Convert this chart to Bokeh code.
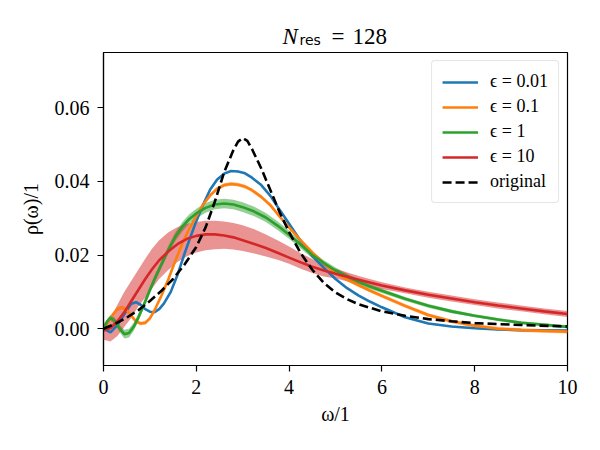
import numpy as np
from bokeh.plotting import figure
from bokeh.layouts import column
from bokeh.models import Range1d, Legend, LegendItem, FixedTicker, PrintfTickFormatter
from bokeh.core.properties import value
from bokeh.embed import file_html
from bokeh.resources import INLINE

# ---------------- data ----------------
x_ticks = [0, 2, 4, 6, 8, 10]
y_ticks = [0.0, 0.02, 0.04, 0.06]

orig_x = [0, 0.25, 0.5, 0.75, 1.0, 1.25, 1.5, 1.75, 2.0, 2.2, 2.4, 2.6, 2.8, 2.9, 3.0, 3.1, 3.2,
          3.4, 3.6, 3.8, 4.0, 4.25, 4.5, 4.75, 5.0, 5.25, 5.5, 6.0, 6.5, 7.0, 7.5, 8.0, 9.0, 10.0]
orig_y = [0, 0.0013, 0.003, 0.005, 0.0075, 0.0103, 0.0135, 0.0175, 0.0222, 0.0275, 0.0345, 0.0425,
          0.0485, 0.0508, 0.0518, 0.0510, 0.0488, 0.0435, 0.0375, 0.0315, 0.0262, 0.0205, 0.0160,
          0.0124, 0.0098, 0.0080, 0.0066, 0.0047, 0.0035, 0.0026, 0.0020, 0.0015, 0.0010, 0.0006]

blue_x = [0, 0.15, 0.3, 0.45, 0.6, 0.7, 0.8, 0.9, 1.0, 1.1, 1.2, 1.3, 1.45, 1.6, 1.75, 1.9, 2.0,
          2.15, 2.3, 2.45, 2.6, 2.75, 2.9, 3.05, 3.2, 3.4, 3.6, 3.8, 4.0, 4.25, 4.5, 4.75, 5.0,
          5.25, 5.5, 5.75, 6.0, 6.5, 7.0, 7.5, 8.0, 8.5, 9.0, 10.0]
blue_y = [0, -0.001, 0.001, 0.004, 0.0068, 0.0072, 0.0065, 0.0053, 0.0046, 0.0045, 0.0053, 0.0068,
          0.0100, 0.0148, 0.0205, 0.0258, 0.0292, 0.0338, 0.0378, 0.0405, 0.0421, 0.0428, 0.0427,
          0.0422, 0.0410, 0.0390, 0.0360, 0.0322, 0.0285, 0.0238, 0.0197, 0.0165, 0.0135, 0.0110,
          0.0090, 0.0073, 0.0058, 0.0031, 0.0014, 0.0006, 0.0001, -0.0002, -0.0004, -0.0005]
blue_err = 0.0002

orange_x = [0, 0.1, 0.2, 0.3, 0.4, 0.5, 0.6, 0.7, 0.8, 0.9, 1.0, 1.1, 1.25, 1.4, 1.55, 1.7, 1.85,
            2.0, 2.15, 2.3, 2.45, 2.6, 2.75, 2.9, 3.05, 3.2, 3.4, 3.6, 3.8, 4.0, 4.25, 4.5, 4.75,
            5.0, 5.25, 5.5, 5.75, 6.0, 6.5, 7.0, 7.5, 8.0, 8.5, 9.0, 10.0]
orange_y = [0, 0.0018, 0.0038, 0.0053, 0.0058, 0.0050, 0.0035, 0.0020, 0.0014, 0.0016, 0.0028,
            0.0050, 0.0090, 0.0135, 0.0185, 0.0232, 0.0272, 0.0305, 0.0338, 0.0362, 0.0380, 0.0390,
            0.0393, 0.0391, 0.0386, 0.0376, 0.0358, 0.0335, 0.0304, 0.0275, 0.0240, 0.0207, 0.0177,
            0.0152, 0.0133, 0.0118, 0.0103, 0.0089, 0.0062, 0.0037, 0.0020, 0.0008, 0.0, -0.0004,
            -0.0008]
orange_err = 0.0005

green_x = [0, 0.08, 0.15, 0.25, 0.35, 0.45, 0.55, 0.65, 0.75, 0.87, 1.0, 1.12, 1.25, 1.4, 1.55,
           1.7, 1.85, 2.0, 2.2, 2.4, 2.6, 2.8, 3.0, 3.25, 3.5, 3.75, 4.0, 4.25, 4.5, 4.75, 5.0,
           5.25, 5.5, 5.75, 6.0, 6.5, 7.0, 7.5, 8.0, 8.5, 9.0, 10.0]
green_y = [0, 0.002, 0.003, 0.002, 0.0, -0.0015, -0.0012, 0.0005, 0.003, 0.0065, 0.0105, 0.0140,
           0.0175, 0.0215, 0.0250, 0.0277, 0.0298, 0.0313, 0.0328, 0.0337, 0.0340, 0.0337, 0.0330,
           0.0318, 0.0302, 0.0280, 0.0255, 0.0228, 0.0200, 0.0178, 0.0158, 0.0142, 0.0127, 0.0114,
           0.0103, 0.0081, 0.0062, 0.0047, 0.0035, 0.0025, 0.0016, 0.0005]
green_err = [0.0004, 0.0006, 0.0008, 0.0009, 0.0010, 0.0012, 0.0012, 0.0011, 0.0010, 0.0010,
             0.0010, 0.0010, 0.0010, 0.0011, 0.0012, 0.0013, 0.0013, 0.0013, 0.0013, 0.0013,
             0.0013, 0.0013, 0.0013, 0.0013, 0.0012, 0.0012, 0.0011, 0.0010, 0.0009, 0.0008,
             0.0008, 0.0007, 0.0007, 0.0006, 0.0006, 0.0005, 0.0005, 0.0005, 0.0004, 0.0004,
             0.0004, 0.0004]

red_x = [0, 0.15, 0.3, 0.45, 0.6, 0.75, 0.9, 1.05, 1.2, 1.4, 1.6, 1.8, 2.0, 2.2, 2.4, 2.6, 2.8,
         3.0, 3.25, 3.5, 3.75, 4.0, 4.25, 4.5, 4.75, 5.0, 5.5, 6.0, 6.5, 7.0, 7.5, 8.0, 8.5, 9.0,
         9.5, 10.0]
red_y = [-0.0005, 0.0002, 0.0020, 0.0045, 0.0075, 0.0105, 0.0135, 0.0162, 0.0186, 0.0210, 0.0230,
         0.0244, 0.0252, 0.0256, 0.0256, 0.0253, 0.0248, 0.0240, 0.0230, 0.0219, 0.0206, 0.0193,
         0.0180, 0.0168, 0.0158, 0.0149, 0.0133, 0.0117, 0.0104, 0.0092, 0.0082, 0.0072, 0.0063,
         0.0055, 0.0047, 0.0040]
red_hi = [0.0015, 0.003, 0.0065, 0.010, 0.0130, 0.0160, 0.0190, 0.0218, 0.0240, 0.0262, 0.0276,
          0.0285, 0.0290, 0.0293, 0.0293, 0.0291, 0.0287, 0.0281, 0.0270, 0.0256, 0.0240, 0.0223,
          0.0205, 0.0189, 0.0175, 0.0163, 0.0143, 0.0126, 0.0112, 0.0100, 0.0090, 0.0080, 0.0071,
          0.0063, 0.0055, 0.0048]
red_lo = [-0.003, -0.0035, -0.002, 0.0005, 0.003, 0.006, 0.0085, 0.011, 0.0135, 0.0160, 0.0182,
          0.0197, 0.0207, 0.0213, 0.0216, 0.0217, 0.0215, 0.0211, 0.0204, 0.0196, 0.0187, 0.0176,
          0.0163, 0.0151, 0.0142, 0.0136, 0.0121, 0.0108, 0.0096, 0.0084, 0.0074, 0.0064, 0.0055,
          0.0047, 0.0039, 0.0032]

labels = ["ϵ = 0.01", "ϵ = 0.1", "ϵ = 1", "ϵ = 10", "original"]
colors = ["#1f77b4", "#ff7f0e", "#2ca02c", "#d62728"]
title_parts = ["N", "res", "=", "128"]

SERIF = "Liberation Serif"
LW = 2.6

# ---------------- title strip (frame aligned with main frame: px 103..567) ----------------
TH = 50
t = figure(width=600, height=TH, output_backend="svg", toolbar_location=None,
           x_range=Range1d(103, 567), y_range=Range1d(0, TH),
           x_axis_type=None, y_axis_type=None, min_border=0)
t.outline_line_color = None
t.xgrid.visible = False
t.ygrid.visible = False
t.background_fill_color = "white"
t.border_fill_color = "white"
tkw = dict(text_baseline="alphabetic", text_align="left", text_color="black")
t.text(x=[282], y=[TH - 36], text=[title_parts[0]], text_font=value(SERIF),
       text_font_style="italic", text_font_size="23px", **tkw)
t.text(x=[299], y=[TH - 39], text=[title_parts[1]], text_font=value("DejaVu Sans"),
       text_font_size="14px", **tkw)
t.text(x=[331], y=[TH - 36], text=[title_parts[2]], text_font=value(SERIF),
       text_font_size="23px", **tkw)
t.text(x=[352], y=[TH - 36], text=[title_parts[3]], text_font=value(SERIF),
       text_font_size="23px", **tkw)

# ---------------- main figure ----------------
p = figure(width=600, height=450 - TH, output_backend="svg", toolbar_location=None,
           x_range=Range1d(0, 10), y_range=Range1d(-0.01, 0.075),
           min_border_left=103, min_border_right=33, min_border_top=52 - TH, min_border_bottom=85)
p.background_fill_color = "white"
p.border_fill_color = "white"
p.outline_line_color = "black"
p.outline_line_width = 1.2
p.xgrid.visible = False
p.ygrid.visible = False

p.xaxis.ticker = FixedTicker(ticks=x_ticks)
p.yaxis.ticker = FixedTicker(ticks=y_ticks)
p.yaxis.formatter = PrintfTickFormatter(format="%.2f")
for ax in (p.xaxis, p.yaxis):
    ax.axis_line_color = "black"
    ax.axis_line_width = 1.2
    ax.major_tick_line_color = "black"
    ax.major_tick_line_width = 1.2
    ax.major_tick_out = 6
    ax.major_tick_in = 0
    ax.minor_tick_line_color = None
    ax.major_label_text_font = SERIF
    ax.major_label_text_font_size = "20px"
    ax.major_label_text_color = "black"
    ax.axis_label_text_font = SERIF
    ax.axis_label_text_font_size = "20px"
    ax.axis_label_text_font_style = "normal"
    ax.axis_label_text_color = "black"
p.xaxis.major_label_standoff = 8
p.yaxis.major_label_standoff = 8
p.xaxis.axis_label = "ω/1"
p.yaxis.axis_label = "ρ(ω)/1"
p.xaxis.axis_label_standoff = 6
p.yaxis.axis_label_standoff = 10

# uncertainty bands
bx = np.array(blue_y)
p.varea(x=blue_x, y1=list(bx - blue_err), y2=list(bx + blue_err), fill_color=colors[0], fill_alpha=0.5)
ox = np.array(orange_y)
p.varea(x=orange_x, y1=list(ox - orange_err), y2=list(ox + orange_err), fill_color=colors[1], fill_alpha=0.5)
gy = np.array(green_y); ge = np.array(green_err)
p.varea(x=green_x, y1=list(gy - ge), y2=list(gy + ge), fill_color=colors[2], fill_alpha=0.5)
p.varea(x=red_x, y1=red_lo, y2=red_hi, fill_color=colors[3], fill_alpha=0.5)

r_blue = p.line(blue_x, blue_y, line_color=colors[0], line_width=LW)
r_orange = p.line(orange_x, orange_y, line_color=colors[1], line_width=LW)
r_green = p.line(green_x, green_y, line_color=colors[2], line_width=LW)
r_red = p.line(red_x, red_y, line_color=colors[3], line_width=LW)
r_orig = p.line(orig_x, orig_y, line_color="black", line_width=LW, line_dash="9 4")

legend = Legend(items=[LegendItem(label=labels[0], renderers=[r_blue]),
                       LegendItem(label=labels[1], renderers=[r_orange]),
                       LegendItem(label=labels[2], renderers=[r_green]),
                       LegendItem(label=labels[3], renderers=[r_red]),
                       LegendItem(label=labels[4], renderers=[r_orig])],
                location="top_right")
legend.label_text_font = SERIF
legend.label_text_font_size = "18px"
legend.label_text_color = "black"
legend.glyph_width = 36
legend.glyph_height = 20
legend.label_height = 20
legend.label_standoff = 12
legend.spacing = 4
legend.padding = 10
legend.margin = 8
legend.border_line_color = "#cccccc"
legend.border_line_width = 1
legend.background_fill_alpha = 0.8
if "border_radius" in Legend.properties():
    legend.border_radius = 4
p.add_layout(legend, "center")

layout = column(t, p, spacing=0)
open("out.html", "w").write(file_html(layout, INLINE))
